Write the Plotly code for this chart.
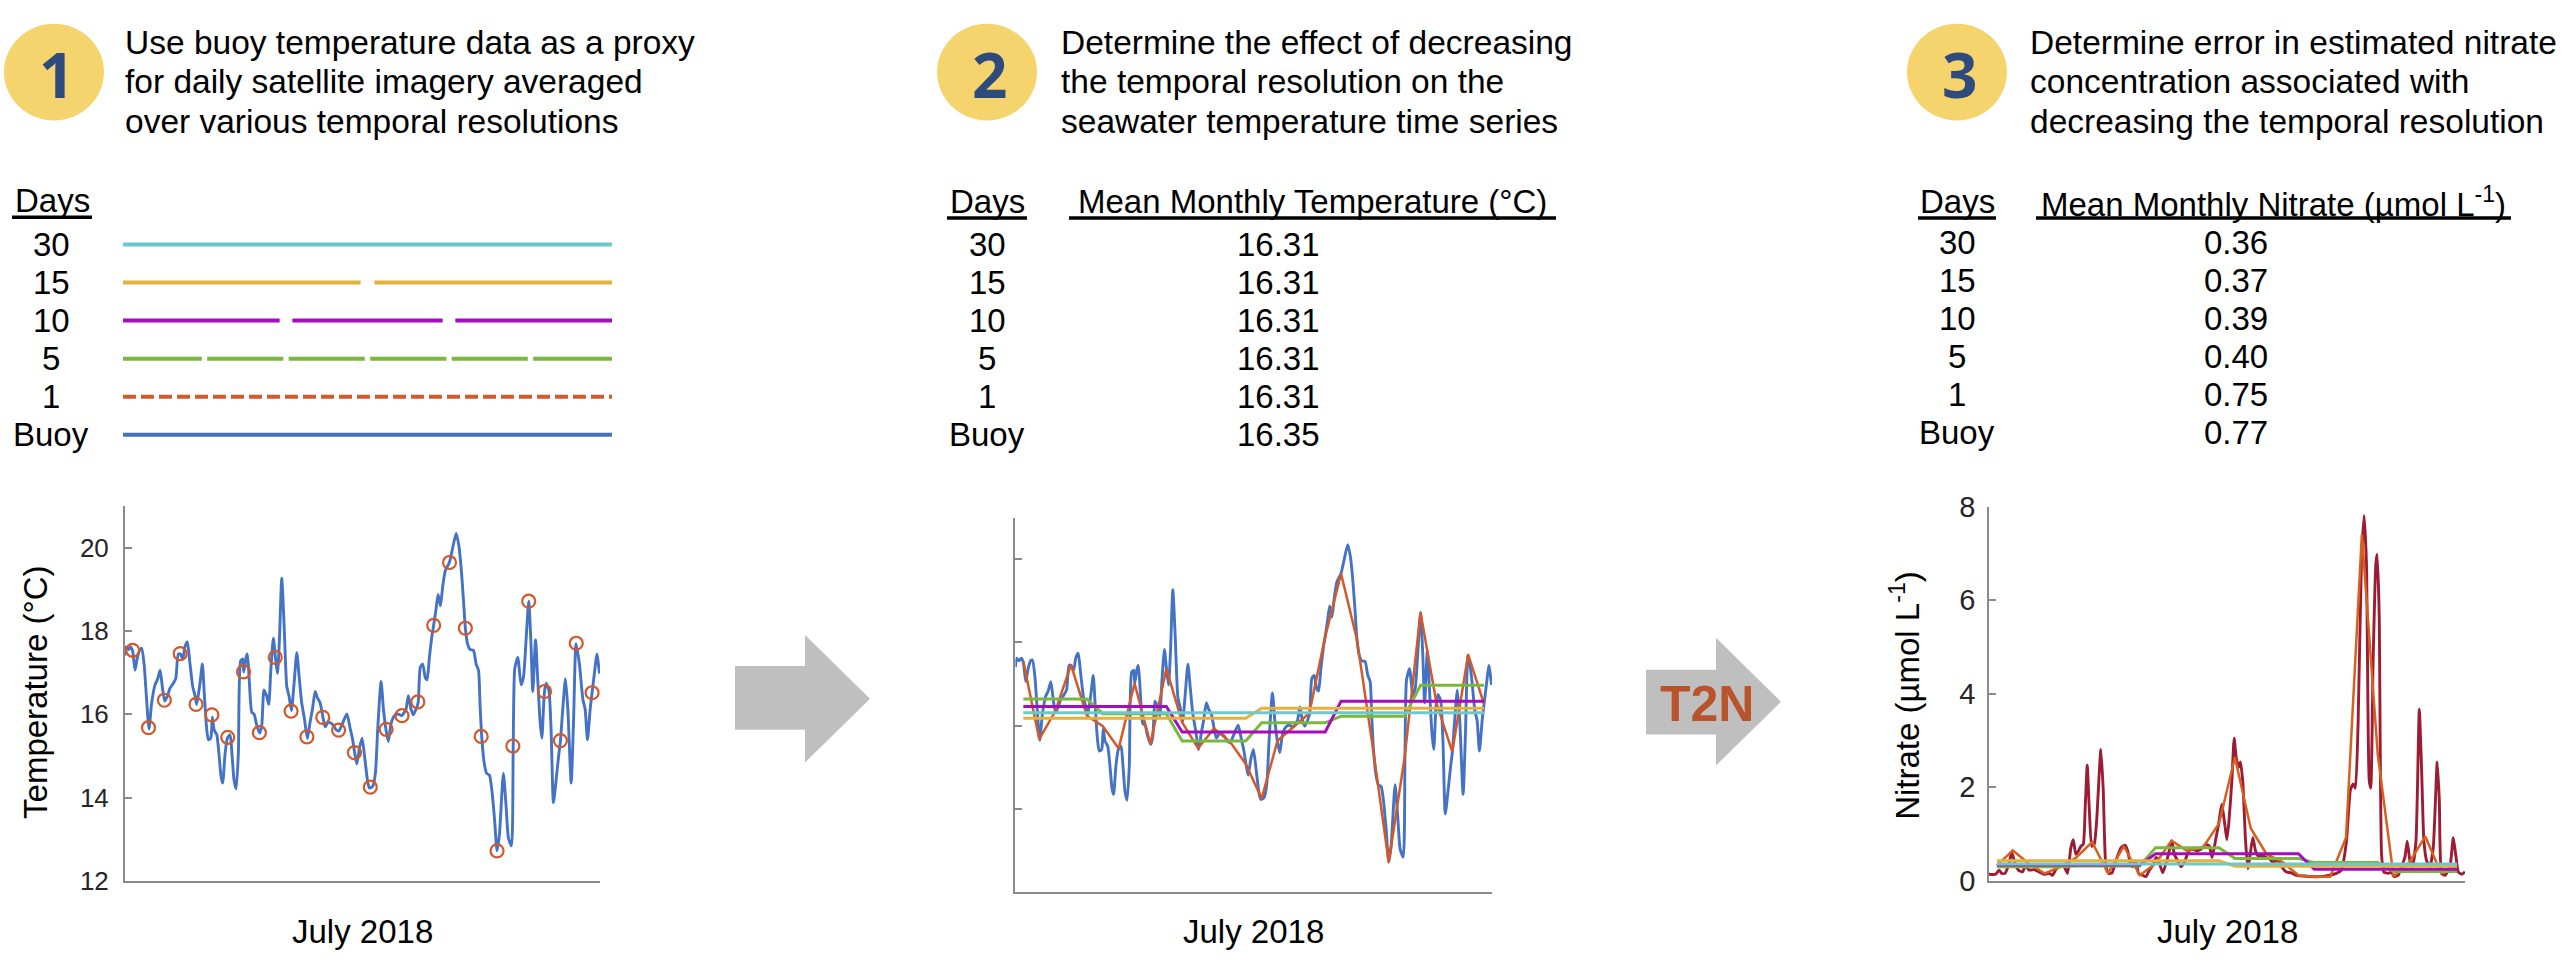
import plotly.graph_objects as go

W, H = 2565, 972
FONT = "Liberation Sans, Arial, Helvetica, sans-serif"

# ---------------------------------------------------------------- data
days_labels = ["30", "15", "10", "5", "1", "Buoy"]
mean_temp = [16.31, 16.31, 16.31, 16.31, 16.31, 16.35]
mean_nitrate = [0.36, 0.37, 0.39, 0.40, 0.75, 0.77]

header_1 = ["Use buoy temperature data as a proxy",
            "for daily satellite imagery averaged",
            "over various temporal resolutions"]
header_2 = ["Determine the effect of decreasing",
            "the temporal resolution on the",
            "seawater temperature time series"]
header_3 = ["Determine error in estimated nitrate",
            "concentration associated with",
            "decreasing the temporal resolution"]

buoy_day = [0.00, 0.08, 0.23, 0.37, 0.50, 0.65, 0.80, 0.96, 1.07, 1.22, 1.38, 1.53, 1.70, 1.91, 2.06,
            2.23, 2.37, 2.52, 2.69, 2.86, 3.07, 3.22, 3.38, 3.51, 3.66, 3.81, 3.95, 4.12, 4.29, 4.44,
            4.54, 4.75, 4.90, 5.03, 5.17, 5.28, 5.43, 5.53, 5.64, 5.81, 5.95, 6.08, 6.18, 6.33, 6.48,
            6.65, 6.77, 6.90, 7.03, 7.17, 7.32, 7.45, 7.51, 7.66, 7.74, 7.87, 8.02, 8.16, 8.33, 8.52,
            8.65, 8.79, 8.96, 9.09, 9.22, 9.38, 9.51, 9.64, 9.76, 9.91, 10.06, 10.23, 10.37, 10.52,
            10.69, 10.86, 11.01, 11.17, 11.34, 11.53, 11.70, 11.85, 12.02, 12.16, 12.33, 12.52, 12.65,
            12.86, 13.17, 13.34, 13.51, 13.70, 14.02, 14.23, 14.37, 14.52, 14.65, 14.82, 14.98, 15.17,
            15.32, 15.44, 15.65, 15.82, 15.97, 16.18, 16.33, 16.49, 16.64, 16.81, 17.02, 17.23, 17.48,
            17.65, 17.76, 17.90, 18.07, 18.22, 18.39, 18.52, 18.66, 18.81, 18.96, 19.08, 19.23, 19.40,
            19.50, 19.65, 19.78, 19.93, 20.07, 20.24, 20.49, 20.70, 20.92, 21.08, 21.23, 21.38, 21.50,
            21.65, 21.80, 22.01, 22.18, 22.33, 22.43, 22.54, 22.70, 22.85, 23.02, 23.17, 23.34, 23.50,
            23.65, 23.90, 24.07, 24.22, 24.41, 24.52, 24.62, 24.81, 25.02, 25.17, 25.34, 25.50, 25.63,
            25.76, 25.93, 26.07, 26.22, 26.33, 26.49, 26.60, 26.77, 26.91, 27.06, 27.23, 27.40, 27.50,
            27.65, 27.82, 27.97, 28.18, 28.33, 28.49, 28.70, 28.92, 29.06, 29.21, 29.38, 29.50, 29.67,
            29.80, 29.97]
buoy_temp = [17.41, 17.62, 17.56, 17.62, 17.52, 17.06, 17.37, 17.56, 17.58, 17.21, 16.36, 15.65, 16.28,
             16.71, 16.83, 17.06, 16.67, 16.32, 16.44, 16.63, 16.75, 16.86, 17.45, 17.45, 17.33, 17.64,
             17.74, 17.21, 16.67, 16.44, 16.24, 16.75, 17.21, 16.44, 15.66, 15.39, 15.43, 15.93, 15.63,
             15.51, 15.04, 14.50, 14.35, 15.04, 15.43, 15.51, 15.04, 14.42, 14.21, 15.04, 17.29, 17.33,
             17.02, 17.37, 17.45, 16.75, 16.05, 16.01, 15.74, 15.55, 15.74, 16.59, 16.44, 16.24, 17.06,
             17.83, 17.37, 16.98, 17.76, 19.27, 18.14, 16.67, 16.44, 16.09, 16.75, 17.48, 16.90, 16.28,
             15.90, 15.42, 15.82, 16.13, 16.55, 16.40, 16.28, 15.91, 15.70, 15.82, 15.74, 15.63, 15.60,
             15.74, 16.01, 15.66, 15.43, 15.06, 14.81, 15.20, 15.43, 14.89, 14.42, 14.23, 14.27, 14.58,
             15.66, 16.79, 16.13, 15.63, 15.35, 15.78, 15.97, 16.01, 15.97, 16.05, 16.13, 16.45, 16.13,
             15.99, 16.13, 16.28, 17.14, 17.21, 16.90, 16.83, 17.37, 17.91, 18.14, 18.53, 18.88, 18.61,
             19.07, 19.46, 19.65, 20.00, 20.35, 20.08, 19.54, 18.76, 18.07, 17.68, 17.56, 17.54, 17.21,
             17.06, 16.21, 15.43, 14.81, 14.58, 14.54, 14.19, 13.50, 12.72, 13.11, 14.58, 13.80, 13.03,
             12.84, 15.20, 17.10, 17.37, 16.71, 16.90, 17.83, 18.72, 17.83, 16.55, 17.79, 16.83, 15.82,
             15.43, 16.53, 16.75, 16.59, 15.66, 13.88, 14.42, 15.04, 15.35, 16.13, 16.86, 16.13, 14.35,
             15.82, 17.70, 17.21, 16.36, 16.13, 15.39, 16.13, 16.52, 17.06, 17.45, 16.98]

daily_day = [d + 0.5 for d in range(30)]
daily_temp = [17.54, 15.68, 16.34, 17.46, 16.24, 15.99, 15.45, 17.02, 15.56, 17.37,
              16.08, 15.46, 15.93, 15.62, 15.08, 14.25, 15.64, 15.97, 16.30, 18.14,
              19.65, 18.07, 15.47, 12.72, 15.24, 18.72, 16.55, 15.37, 17.71, 16.52]
daily_nitrate = [0.33, 0.65, 0.37, 0.16, 0.30, 0.50, 0.83, 0.16, 0.74, 0.12,
                 0.37, 0.86, 0.64, 0.72, 1.23, 2.64, 1.12, 0.57, 0.40, 0.12,
                 0.09, 0.09, 0.92, 7.40, 2.71, 0.09, 0.40, 0.95, 0.16, 0.30]

temp_windows = {30: [16.31],
                15: [16.18, 16.42],
                10: [16.46, 15.85, 16.59],
                5: [16.64, 16.29, 15.63, 16.07, 16.23, 16.97]}
nitrate_windows = {30: [0.36],
                   15: [0.43, 0.31],
                   10: [0.34, 0.58, 0.25],
                   5: [0.30, 0.32, 0.71, 0.48, 0.39, 0.20]}

nit_day = [0.00, 0.42, 0.63, 0.80, 1.01, 1.26, 1.43, 1.64, 1.85, 2.11, 2.32, 2.53, 2.84, 3.16, 3.47,
           3.79, 4.00, 4.21, 4.53, 4.74, 4.95, 5.16, 5.31, 5.47, 5.64, 5.79, 5.94, 6.06, 6.19, 6.32,
           6.48, 6.63, 6.78, 7.05, 7.20, 7.37, 7.54, 7.75, 8.00, 8.32, 8.59, 8.74, 8.91, 9.05, 9.26,
           9.43, 9.68, 9.89, 10.11, 10.32, 10.53, 10.69, 10.95, 11.26, 11.52, 11.68, 11.89, 12.11,
           12.32, 12.59, 12.84, 13.09, 13.37, 13.68, 13.89, 14.06, 14.27, 14.46, 14.67, 14.84, 14.99,
           15.12, 15.31, 15.45, 15.58, 15.73, 15.85, 16.00, 16.17, 16.32, 16.46, 16.63, 16.80, 17.01,
           17.26, 17.47, 17.68, 17.89, 18.11, 18.32, 18.53, 18.74, 19.05, 19.37, 20.00, 20.84, 21.47,
           21.89, 22.21, 22.53, 22.78, 22.95, 23.09, 23.26, 23.47, 23.64, 23.79, 23.96, 24.06, 24.21,
           24.38, 24.46, 24.59, 24.74, 24.88, 25.16, 25.37, 25.52, 25.79, 26.00, 26.21, 26.36, 26.53,
           26.69, 26.91, 27.12, 27.26, 27.41, 27.58, 27.79, 28.00, 28.25, 28.38, 28.53, 28.74, 29.05,
           29.26, 29.41, 29.58, 29.79, 30.00]
nit_val = [0.14, 0.14, 0.23, 0.16, 0.16, 0.37, 0.61, 0.37, 0.23, 0.19, 0.33, 0.23, 0.24, 0.19, 0.14,
           0.16, 0.12, 0.24, 0.33, 0.30, 0.16, 0.71, 0.88, 0.57, 0.64, 0.74, 0.78, 1.54, 2.47, 1.54,
           0.74, 0.78, 1.26, 2.81, 1.95, 0.30, 0.16, 0.17, 0.43, 0.71, 0.76, 0.64, 0.37, 0.30, 0.40,
           0.16, 0.12, 0.09, 0.23, 0.33, 0.50, 0.43, 0.17, 0.50, 0.86, 0.57, 0.43, 0.30,
           0.40, 0.64, 0.68, 0.64, 0.68, 0.78, 0.74, 0.50, 0.85, 1.19, 1.64, 1.26, 0.88,
           1.26, 2.16, 3.05, 2.64, 2.43, 2.54, 2.09, 0.85, 0.26, 0.57, 0.93, 0.64, 0.52,
           0.54, 0.50, 0.47, 0.40, 0.43, 0.40, 0.26, 0.19, 0.17, 0.12, 0.10, 0.09, 0.12,
           0.16, 0.23, 0.85, 1.95, 2.07, 1.98, 3.33, 6.77, 7.81, 6.77, 2.16, 1.98, 4.71,
           6.77, 6.98, 5.74, 0.57, 0.19, 0.16, 0.19, 0.09, 0.12, 0.30, 0.50, 0.85, 0.43,
           0.30, 0.85, 3.67, 2.43, 0.85, 0.43, 0.30, 0.71, 2.54, 1.74, 0.16, 0.12, 0.30,
           0.92, 0.57, 0.19, 0.14, 0.19]

# ---------------------------------------------------------------- styles
BLUE = "#4472C4"
ORANGE = "#D3582A"
CYAN = "#6CC8CB"
GOLD = "#E6B03C"
MAGENTA = "#A50CBE"
GREEN = "#78B83C"
MAROON = "#9C1D33"
AXC = "#8A8A8A"
YELLOW = "#F5D46E"
NAVY = "#2F4B7C"
ARROW = "#BFBFBF"
win_colors = {30: CYAN, 15: GOLD, 10: MAGENTA, 5: GREEN}
legend_gaps = {30: 0.0, 15: 0.85, 10: 0.78, 5: 0.33}


def X(p):
    return p / W


def Y(p):
    return 1 - p / H


fig = go.Figure()

# legend lines of panel 1 (one segment per averaging window)
for i, r in enumerate([30, 15, 10, 5]):
    n = 30 // r
    xs, ys = [], []
    for k in range(n):
        x0 = k * r + (legend_gaps[r] / 2 if k > 0 else 0)
        x1 = (k + 1) * r - (legend_gaps[r] / 2 if k < n - 1 else 0)
        xs += [x0, x1, None]
        ys += [i, i, None]
    fig.add_trace(go.Scatter(x=xs, y=ys, mode="lines", xaxis="x4", yaxis="y4",
                             line=dict(color=win_colors[r], width=4), hoverinfo="skip"))
fig.add_trace(go.Scatter(x=[0, 30], y=[4, 4], mode="lines", xaxis="x4", yaxis="y4",
                         line=dict(color=ORANGE, width=4, dash="13px,5px"), hoverinfo="skip"))
fig.add_trace(go.Scatter(x=[0, 30], y=[5, 5], mode="lines", xaxis="x4", yaxis="y4",
                         line=dict(color=BLUE, width=4), hoverinfo="skip"))

# chart 1
fig.add_trace(go.Scatter(x=buoy_day, y=buoy_temp, mode="lines", xaxis="x", yaxis="y",
                         line=dict(color=BLUE, width=2.9, shape="spline", smoothing=0.6)))
fig.add_trace(go.Scatter(x=daily_day, y=daily_temp, mode="markers", xaxis="x", yaxis="y",
                         marker=dict(symbol="circle-open", size=13, color=ORANGE,
                                     line=dict(width=2.2, color=ORANGE))))

# chart 2
fig.add_trace(go.Scatter(x=buoy_day, y=buoy_temp, mode="lines", xaxis="x2", yaxis="y2",
                         line=dict(color=BLUE, width=2.9, shape="spline", smoothing=0.6)))
fig.add_trace(go.Scatter(x=daily_day, y=daily_temp, mode="lines", xaxis="x2", yaxis="y2",
                         line=dict(color=ORANGE, width=2.5)))
for r in [5, 10, 15, 30]:
    vals = temp_windows[r]
    fig.add_trace(go.Scatter(x=daily_day, y=[vals[int(d // r)] for d in daily_day], mode="lines",
                             xaxis="x2", yaxis="y2", line=dict(color=win_colors[r], width=3)))

# chart 3
fig.add_trace(go.Scatter(x=nit_day, y=nit_val, mode="lines", xaxis="x3", yaxis="y3",
                         line=dict(color=MAROON, width=2.9, shape="spline", smoothing=0.5)))
fig.add_trace(go.Scatter(x=daily_day, y=daily_nitrate, mode="lines", xaxis="x3", yaxis="y3",
                         line=dict(color="#D8601F", width=2.5)))
for r in [5, 10, 15, 30]:
    vals = nitrate_windows[r]
    fig.add_trace(go.Scatter(x=daily_day, y=[vals[int(d // r)] for d in daily_day], mode="lines",
                             xaxis="x3", yaxis="y3", line=dict(color=win_colors[r], width=3)))


def xax(x0, x1):
    return dict(domain=[X(x0), X(x1)], range=[0, 30], showline=True, linecolor=AXC, linewidth=1.5,
                showticklabels=False, ticks="", showgrid=False, zeroline=False, fixedrange=True)


def yax(y_bottom, y_top, rng, tv, labels=True, size=25, standoff=9):
    return dict(domain=[Y(y_bottom), Y(y_top)], range=rng, tickvals=tv, ticks="inside", ticklen=7,
                tickwidth=1.5, tickcolor=AXC, showline=True, linecolor=AXC, linewidth=1.5,
                showgrid=False, zeroline=False, showticklabels=labels, fixedrange=True,
                tickfont=dict(family=FONT, size=size, color="#262626"), ticklabelstandoff=standoff)


fig.update_layout(
    width=W, height=H, margin=dict(l=0, r=0, t=0, b=0), autosize=False,
    paper_bgcolor="white", plot_bgcolor="white", showlegend=False,
    font=dict(family=FONT, color="black"),
    xaxis=dict(xax(124.75, 600), anchor="y"),
    yaxis=dict(yax(894.3, 507, [12, 21], [12, 14, 16, 18, 20], True, 26, 9), anchor="x"),
    xaxis2=dict(xax(1015.4, 1492), anchor="y2"),
    yaxis2=dict(yax(906, 518.7, [12, 21], [12, 14, 16, 18, 20], False), anchor="x2"),
    xaxis3=dict(xax(1989, 2465), anchor="y3"),
    yaxis3=dict(yax(894.3, 507.3, [0, 8], [0, 2, 4, 6, 8], True, 29, 6), anchor="x3"),
    xaxis4=dict(domain=[X(123), X(612)], range=[0, 30], visible=False, anchor="y4", fixedrange=True),
    yaxis4=dict(domain=[Y(452.7), Y(216.6)], range=[5.5, -0.5], visible=False, anchor="x4",
                fixedrange=True),
)

ann = []
shapes = []


def text(x, y, s, size=33, xanchor="center", color="black", angle=0, bold=False, family=FONT,
         yref="paper", yv=None):
    ann.append(dict(x=X(x), y=(Y(y) if yref == "paper" else yv), xref="paper", yref=yref,
                    text=(f"<b>{s}</b>" if bold else s), showarrow=False, xanchor=xanchor,
                    yanchor="middle", textangle=angle,
                    font=dict(family=family, size=size, color=color)))


def uline(x0, x1, y):
    shapes.append(dict(type="line", xref="paper", yref="paper", x0=X(x0), x1=X(x1), y0=Y(y), y1=Y(y),
                       line=dict(color="black", width=3.5)))


# numbered badges and step descriptions
badges = [(54, "1", 123, header_1), (987, "2", 1059, header_2), (1957, "3", 2028, header_3)]
for cx, num, tx, lines in badges:
    shapes.append(dict(type="circle", xref="paper", yref="paper", x0=X(cx - 50), x1=X(cx + 50),
                       y0=Y(58 + 50), y1=Y(58 - 50), fillcolor=YELLOW, line=dict(width=0),
                       layer="below"))
    text(cx + 2, 60, num, size=62, color=NAVY, bold=True, family="Open Sans, Liberation Sans, sans-serif")
    for j, ln in enumerate(lines):
        text(tx, 27 + 41 * j, ln, size=33.5, xanchor="left")

# panel 1 legend labels
text(52, 191, "Days")
uline(12, 92, 208)
for i, lab in enumerate(days_labels):
    text(51, 0, lab, yref="y4", yv=i)

# panel 2 table
text(987, 192, "Days")
uline(947, 1027, 209)
text(1312.5, 192, "Mean Monthly Temperature (°C)")
uline(1069, 1556, 209)
for i, lab in enumerate(days_labels):
    text(987, 0, lab, yref="y4", yv=i)
    text(1278, 0, f"{mean_temp[i]:.2f}", yref="y4", yv=i)

# panel 3 table
text(1957, 192, "Days")
uline(1918, 1996, 209)
text(2273.5, 192, "Mean Monthly Nitrate (µmol L<sup>-1</sup>)")
uline(2036, 2511, 209)
for i, lab in enumerate(days_labels):
    text(1957, 0, lab, yref="y4", yv=i - 0.06)
    text(2236, 0, f"{mean_nitrate[i]:.2f}", yref="y4", yv=i - 0.06)

# axis titles
text(36, 700, "Temperature (°C)", angle=-90)
text(1905, 703, "Nitrate (µmol L<sup>-1</sup>)", angle=-90)
for cx in (362, 1253, 2227):
    text(cx, 947, "July 2018")


def arrow_path(bx0, bx1, by0, by1, hy0, hy1, tipx, tipy):
    pts = [(bx0, by0), (bx1, by0), (bx1, hy0), (tipx, tipy), (bx1, hy1), (bx1, by1), (bx0, by1)]
    return "M " + " L ".join(f"{X(a):.5f},{Y(b):.5f}" for a, b in pts) + " Z"


shapes.append(dict(type="path", xref="paper", yref="paper",
                   path=arrow_path(735, 805, 672, 738, 640, 772, 870, 706),
                   fillcolor=ARROW, line=dict(width=0)))
shapes.append(dict(type="path", xref="paper", yref="paper",
                   path=arrow_path(1646, 1716, 676, 743, 643, 775, 1781, 709),
                   fillcolor=ARROW, line=dict(width=0)))
text(1707, 711, "T2N", size=50, color="#B8532B", bold=True,
     family="Liberation Sans Narrow, Liberation Sans, Arial, sans-serif")

fig.update_layout(annotations=ann, shapes=shapes)

fig.write_html("out.html", config={"displayModeBar": False},
               post_script="document.body.style.margin='0';document.body.style.overflow='hidden';")
